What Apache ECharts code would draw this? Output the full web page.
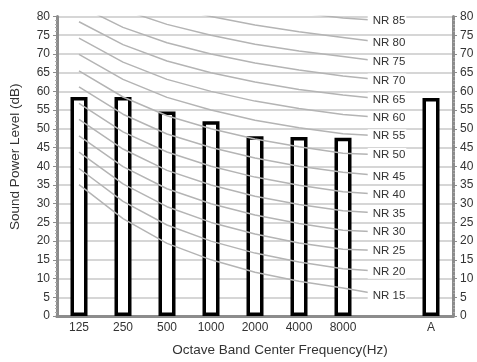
<!DOCTYPE html>
<html>
<head>
<meta charset="utf-8">
<script src="https://cdn.jsdelivr.net/npm/echarts@6/dist/echarts.min.js"></script>
<style>html,body{margin:0;padding:0;background:#fff}#c{width:477px;height:362px}</style>
</head>
<body>
<div id="c"></div>
<script>
// Categories (index 7 is the empty slot that holds the NR labels)
const categories = ['125', '250', '500', '1000', '2000', '4000', '8000', '', 'A'];
// Measured sound power level per band (dB); '-' = no bar
const soundPower = [58.5, 58.5, 54.6, 52, 48, 47.8, 47.6, '-', 58.2];
// NR curve levels
const nrLevels = [15, 20, 25, 30, 35, 40, 45, 50, 55, 60, 65, 70, 75, 80, 85];
// NR curve values at 125..8000 Hz
const nrCurves = [
  [35.1, 26.0, 19.4, 15, 11.7, 9.3, 7.5],
  [39.4, 30.6, 24.3, 20, 16.8, 14.4, 12.6],
  [43.8, 35.3, 29.2, 25, 21.9, 19.5, 17.8],
  [48.1, 39.9, 34.0, 30, 27.0, 24.7, 22.9],
  [52.5, 44.6, 38.9, 35, 32.0, 29.8, 28.1],
  [56.8, 49.2, 43.8, 40, 37.1, 34.9, 33.2],
  [61.2, 53.9, 48.6, 45, 42.2, 40.0, 38.4],
  [65.5, 58.5, 53.5, 50, 47.3, 45.2, 43.5],
  [69.9, 63.2, 58.4, 55, 52.3, 50.3, 48.7],
  [74.2, 67.8, 63.2, 60, 57.4, 55.4, 53.8],
  [78.6, 72.5, 68.1, 65, 62.5, 60.5, 59.0],
  [82.9, 77.1, 73.0, 70, 67.6, 65.7, 64.1],
  [87.3, 81.8, 77.9, 75, 72.6, 70.8, 69.3],
  [91.6, 86.4, 82.7, 80, 77.7, 75.9, 74.4],
  [96.0, 91.1, 87.6, 85, 82.8, 81.0, 79.6]
];
// Position (dB) of each NR label in the empty slot
const nrLabelPos = [5.4, 11.8, 17.4, 22.4, 27.4, 32.4, 37.3, 43.0, 48.0, 52.9, 57.8, 62.9, 67.8, 72.9, 78.8];
// Y tick settings
const yMin = 0, yMax = 80, yStep = 5;

const FONT = '"Liberation Sans", Arial, sans-serif';
const TXT = '#333';
const AX = '#8c8c8c';

const chart = echarts.init(document.getElementById('c'), null, {renderer: 'canvas'});

const nrSeries = nrLevels.map((lvl, i) => {
  const data = nrCurves[i].map(v => ({value: v}));
  data.push({
    value: nrLabelPos[i],
    label: {
      show: true,
      position: 'inside',
      formatter: 'NR ' + lvl,
      color: TXT,
      fontFamily: FONT,
      fontSize: 11.5,
      backgroundColor: '#fff',
      padding: [1, 1, 1, 5]
    }
  });
  return {
    type: 'line',
    xAxisIndex: 0,
    yAxisIndex: 0,
    data: data,
    symbol: 'circle',
    symbolSize: 0,
    showSymbol: true,
    clip: true,
    z: 3,
    lineStyle: {color: '#b4b4b4', width: 1.5},
    itemStyle: {color: '#b4b4b4'},
    emphasis: {disabled: true},
    silent: true
  };
});

const yAxisBase = {
  type: 'value',
  min: yMin,
  max: yMax,
  interval: yStep,
  axisLine: {show: true, lineStyle: {color: AX, width: 3}},
  axisTick: {show: true, length: 4, lineStyle: {color: AX, width: 1}},
  minorTick: {show: true, splitNumber: 5, length: 2, lineStyle: {color: '#aaa', width: 1}},
  axisLabel: {color: TXT, fontFamily: FONT, fontSize: 12, margin: 7}
};

chart.setOption({
  animation: false,
  backgroundColor: '#fff',
  grid: {left: 56, right: 24, top: 16.5, bottom: 44.5},
  xAxis: [{
    type: 'category',
    data: categories,
    position: 'bottom',
    axisLine: {lineStyle: {color: AX, width: 3}},
    axisTick: {show: false},
    axisLabel: {color: TXT, fontFamily: FONT, fontSize: 12, margin: 6, interval: 0},
    name: 'Octave Band Center Frequency(Hz)',
    nameLocation: 'middle',
    nameGap: 27,
    nameTextStyle: {color: TXT, fontFamily: FONT, fontSize: 13.5, padding: [0, 0, 0, 50]}
  }, {
    type: 'category',
    data: categories,
    position: 'top',
    axisLine: {show: true, lineStyle: {color: AX, width: 3}},
    axisTick: {show: false},
    axisLabel: {show: false}
  }],
  yAxis: [Object.assign({}, yAxisBase, {
    position: 'left',
    splitLine: {show: true, lineStyle: {color: '#c8c8c8', width: 1.5}},
    name: 'Sound Power Level (dB)',
    nameLocation: 'middle',
    nameGap: 35,
    nameTextStyle: {color: TXT, fontFamily: FONT, fontSize: 13.5, padding: [0, 0, 0, 19]}
  }), Object.assign({}, yAxisBase, {
    position: 'right',
    splitLine: {show: false}
  })],
  series: [{
    type: 'bar',
    data: soundPower,
    barWidth: 17,
    z: 2,
    itemStyle: {color: '#fff', borderColor: '#000', borderWidth: 3.5},
    silent: true
  }].concat(nrSeries)
});
</script>
</body>
</html>
